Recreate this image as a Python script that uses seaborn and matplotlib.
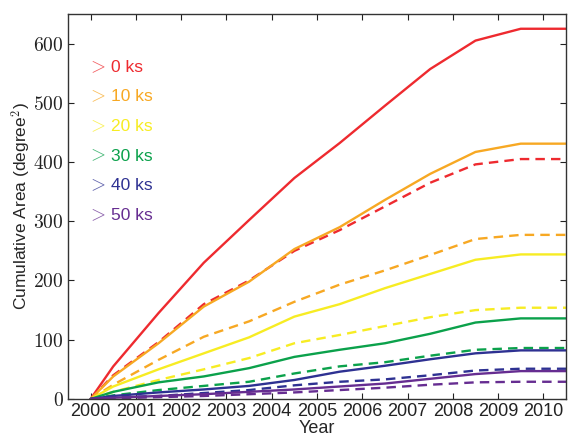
import matplotlib
matplotlib.use("Agg")
import matplotlib.pyplot as plt
import seaborn as sns
import pandas as pd

# Observation epochs (mid-year sampling)
years = [2000.0, 2000.5, 2001.5, 2002.5, 2003.5, 2004.5, 2005.5,
         2006.5, 2007.5, 2008.5, 2009.5, 2010.5]

# Cumulative area (degree^2) above each exposure threshold
solid = {
    "> 0 ks":  [0, 55, 145, 230, 302, 373, 432, 495, 557, 605, 625, 625],
    "> 10 ks": [0, 38, 94, 156, 198, 253, 290, 336, 380, 417, 431, 431],
    "> 20 ks": [0, 21, 50, 77, 104, 139, 160, 187, 211, 235, 244, 244],
    "> 30 ks": [0, 12, 28, 38, 52, 71, 83, 94, 110, 129, 136, 136],
    "> 40 ks": [0, 5, 11, 16, 22, 32, 46, 56, 67, 77, 82, 82],
    "> 50 ks": [0, 2, 5, 8, 12, 16, 21, 26, 34, 42, 47, 47],
}
dashed = {
    "> 0 ks":  [0, 40, 96, 160, 200, 250, 285, 325, 365, 396, 405, 405],
    "> 10 ks": [0, 24, 66, 105, 131, 164, 193, 217, 243, 270, 277, 277],
    "> 20 ks": [0, 12, 32, 50, 69, 94, 108, 123, 138, 150, 154, 154],
    "> 30 ks": [0, 6, 15, 22, 29, 43, 55, 62, 73, 83, 86, 86],
    "> 40 ks": [0, 3, 5, 10, 15, 23, 29, 33, 40, 48, 51, 51],
    "> 50 ks": [0, 1, 3, 5, 8, 11, 15, 19, 24, 28, 29, 29],
}
thresholds = ["> 0 ks", "> 10 ks", "> 20 ks", "> 30 ks", "> 40 ks", "> 50 ks"]
colors = ["#EE2A2F", "#F7A823", "#F7EC23", "#0BA14B", "#2E3192", "#662D91"]
y_ticks = [0, 100, 200, 300, 400, 500, 600]
x_ticks = list(range(2000, 2011))

rows = []
for kind, table in (("solid", solid), ("dashed", dashed)):
    for th in thresholds:
        for yr, v in zip(years, table[th]):
            rows.append({"year": yr, "area": v, "threshold": th, "kind": kind})
df = pd.DataFrame(rows)

sns.set_style("ticks")
plt.rcParams["font.family"] = ["Liberation Sans", "DejaVu Sans"]
plt.rcParams["mathtext.fontset"] = "cm"

fig = plt.figure(figsize=(5.68, 4.36), dpi=100)
ax = fig.add_axes([0.1197, 0.085, 0.8768, 0.883])

sns.lineplot(data=df, x="year", y="area", hue="threshold", style="kind",
             hue_order=thresholds, palette=dict(zip(thresholds, colors)),
             style_order=["solid", "dashed"],
             dashes={"solid": "", "dashed": (4, 2.6)},
             linewidth=1.7, legend=False, ax=ax)

ax.set_xlim(1999.5, 2010.5)
ax.set_ylim(0, 650)
ax.set_xticks(x_ticks)
ax.set_xticklabels([str(x) for x in x_ticks], fontsize=13)
ax.set_yticks(y_ticks)
ax.set_yticklabels([f"${v}$" for v in y_ticks], fontsize=14)
ax.tick_params(direction="in", top=True, right=True, length=4, width=0.8,
               pad=3, colors="#222222")
for s in ax.spines.values():
    s.set_linewidth(1.0)
    s.set_color("#333333")

ax.set_xlabel("Year", fontsize=13, labelpad=0)
ax.set_ylabel("Cumulative Area (degree$^2$)", fontsize=12.5, labelpad=0)

# Threshold labels
for i, (th, c) in enumerate(zip(thresholds, colors)):
    ypos = 560 - 50 * i
    ax.text(1999.93, ypos, r"$>$", color=c, fontsize=14, va="center",
            ha="left", alpha=0.75)
    ax.text(2000.44, ypos, th[2:], color=c, fontsize=12.5, va="center",
            ha="left")

fig.savefig("out.png", dpi=100)
